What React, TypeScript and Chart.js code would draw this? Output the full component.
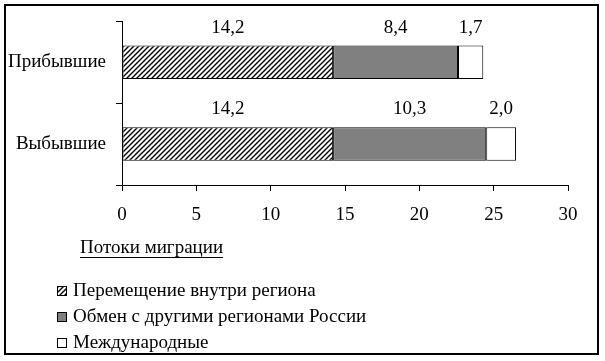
import React, { useEffect, useRef } from "react";
import { Chart, registerables } from "chart.js";

Chart.register(...registerables);

const categories = ["Прибывшие", "Выбывшие"];
const seriesNames = [
  "Перемещение внутри региона",
  "Обмен с другими регионами России",
  "Международные",
];
const withinRegion = [14.2, 14.2];
const otherRegions = [8.4, 10.3];
const international = [1.7, 2.0];
const xTicks = [0, 5, 10, 15, 20, 25, 30];
const legendTitle = "Потоки миграции";

const FONT = "'Liberation Serif', 'Times New Roman', serif";
const FS = 19;

function makeHatch(): CanvasPattern | string {
  const s = 5;
  const c = document.createElement("canvas");
  c.width = s;
  c.height = s;
  const g = c.getContext("2d");
  if (!g) return "#fff";
  g.fillStyle = "#fff";
  g.fillRect(0, 0, s, s);
  g.strokeStyle = "#000";
  g.lineWidth = 1.4;
  g.beginPath();
  g.moveTo(0, s);
  g.lineTo(s, 0);
  g.moveTo(-1, 1);
  g.lineTo(1, -1);
  g.moveTo(s - 1, s + 1);
  g.lineTo(s + 1, s - 1);
  g.stroke();
  const p = g.createPattern(c, "repeat");
  return p || "#fff";
}

export default function App() {
  const ref = useRef<HTMLCanvasElement | null>(null);
  useEffect(() => {
    if (!ref.current) return;
    const hatch = makeHatch();
    const fills: any[] = [hatch, "#808080", "#ffffff"];
    const values = [withinRegion, otherRegions, international];
    const fmt = (v: number) => v.toFixed(1).replace(".", ",");

    const extras = {
      id: "extras",
      afterDatasetsDraw(chart: any) {
        const ctx = chart.ctx;
        ctx.save();
        ctx.font = `${FS}px ${FONT}`;
        ctx.fillStyle = "#000";
        ctx.textAlign = "center";
        ctx.textBaseline = "middle";
        chart.data.datasets.forEach((ds: any, di: number) => {
          const meta = chart.getDatasetMeta(di);
          meta.data.forEach((bar: any, i: number) => {
            const x = (bar.x + bar.base) / 2;
            const y = bar.y - bar.height / 2 - 18;
            ctx.fillText(fmt(ds.data[i]), x, y);
          });
        });
        // legend title
        ctx.textAlign = "left";
        ctx.fillText(legendTitle, 80, 248);
        const w = ctx.measureText(legendTitle).width;
        ctx.strokeStyle = "#000";
        ctx.lineWidth = 1;
        ctx.beginPath();
        ctx.moveTo(80, 257.5);
        ctx.lineTo(80 + w, 257.5);
        ctx.stroke();
        // legend items
        const ys = [291, 317, 343];
        seriesNames.forEach((name, i) => {
          ctx.fillStyle = fills[i];
          ctx.fillRect(57, ys[i] - 5, 10, 10);
          ctx.strokeStyle = "#000";
          ctx.lineWidth = 1;
          ctx.strokeRect(57.5, ys[i] - 4.5, 9, 9);
          ctx.fillStyle = "#000";
          ctx.fillText(name, 73, ys[i]);
        });
        // frame
        ctx.lineWidth = 2;
        ctx.strokeRect(5, 5, 593, 349);
        ctx.restore();
      },
    };

    const chart = new Chart(ref.current, {
      type: "bar",
      data: {
        labels: categories,
        datasets: seriesNames.map((name, i) => ({
          label: name,
          data: values[i],
          backgroundColor: fills[i],
          borderColor: "#000",
          borderWidth: 1,
          borderSkipped: false,
          categoryPercentage: 0.82,
          barPercentage: 0.5,
        })),
      },
      options: {
        indexAxis: "y",
        animation: false,
        responsive: false,
        devicePixelRatio: 1,
        layout: { padding: { left: 0, top: 20, right: 37, bottom: 0 } },
        plugins: { legend: { display: false }, tooltip: { enabled: false } },
        scales: {
          y: {
            stacked: true,
            grid: {
              display: true,
              drawOnChartArea: false,
              offset: true,
              color: "#000",
              tickLength: 6,
            },
            border: { display: true, color: "#000", width: 1 },
            ticks: { color: "#000", font: { family: FONT, size: FS }, padding: 10 },
            afterFit: (s: any) => {
              s.width = 122;
            },
          },
          x: {
            stacked: true,
            min: xTicks[0],
            max: xTicks[xTicks.length - 1],
            afterBuildTicks: (s: any) => {
              s.ticks = xTicks.map((v) => ({ value: v }));
            },
            grid: {
              display: true,
              drawOnChartArea: false,
              color: "#000",
              tickLength: 6,
            },
            border: { display: true, color: "#000", width: 1 },
            ticks: { color: "#000", font: { family: FONT, size: FS }, padding: 13, maxRotation: 0 },
            afterFit: (s: any) => {
              s.height = 176;
            },
          },
        },
      },
      plugins: [extras],
    });
    return () => chart.destroy();
  }, []);
  return (
    <div style={{ position: "absolute", left: 0, top: 0, width: 605, height: 361, background: "#fff" }}>
      <canvas ref={ref} width={605} height={361} style={{ display: "block" }} />
    </div>
  );
}
